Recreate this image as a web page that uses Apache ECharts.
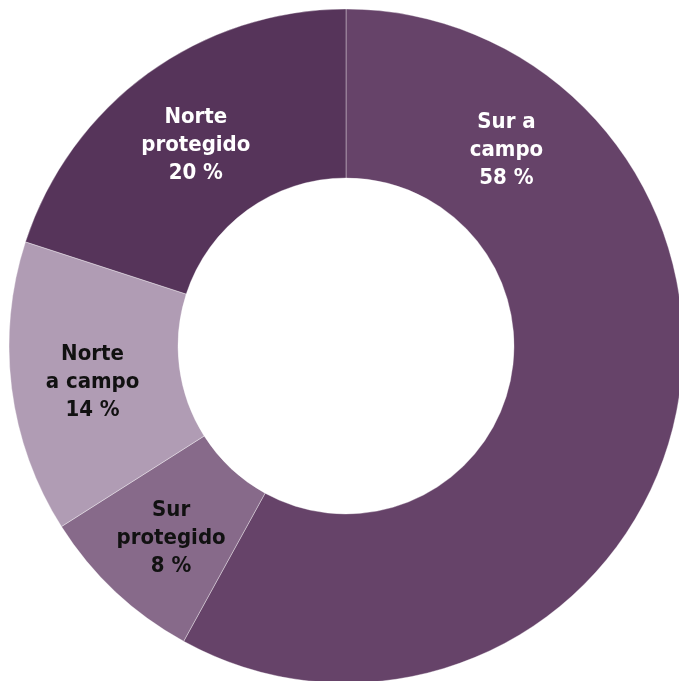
<!DOCTYPE html>
<html>
<head>
<meta charset="utf-8">
<script src="https://cdn.jsdelivr.net/npm/echarts@6/dist/echarts.min.js"></script>
<style>
html,body{margin:0;padding:0;background:#fff;}
#c{width:679px;height:681px;}
</style>
</head>
<body>
<div id="c"></div>
<script>
const categories = ["Sur a\ncampo", "Sur\nprotegido", "Norte\na campo", "Norte\nprotegido"];
const values = [58, 8, 14, 20];
const colors = ["#664369", "#876a8a", "#b09cb4", "#56345a"];
const textColors = ["#ffffff", "#111111", "#111111", "#ffffff"];
const labelOffsets = [[-87, -259], [0, 6], [0, 4], [0, 6]];

const chart = echarts.init(document.getElementById('c'), null, {renderer: 'canvas'});
chart.setOption({
  animation: false,
  series: [{
    type: 'pie',
    center: [346, 346],
    radius: [168, 337],
    startAngle: 90,
    clockwise: true,
    avoidLabelOverlap: false,
    itemStyle: {borderColor: 'rgba(255,255,255,0.35)', borderWidth: 1},
    label: {
      show: true,
      position: 'inside',
      fontFamily: '"Liberation Sans Narrow", "Arial Narrow", "DejaVu Sans Condensed", sans-serif',
      fontWeight: 'bold',
      fontSize: 22,
      lineHeight: 28,
      align: 'center',
      formatter: p => p.name + '\n' + p.value + ' %'
    },
    labelLine: {show: false},
    emphasis: {disabled: true},
    data: categories.map((c, i) => ({
      name: c,
      value: values[i],
      itemStyle: {color: colors[i]},
      label: {color: textColors[i], offset: labelOffsets[i]}
    }))
  }]
});
</script>
</body>
</html>
